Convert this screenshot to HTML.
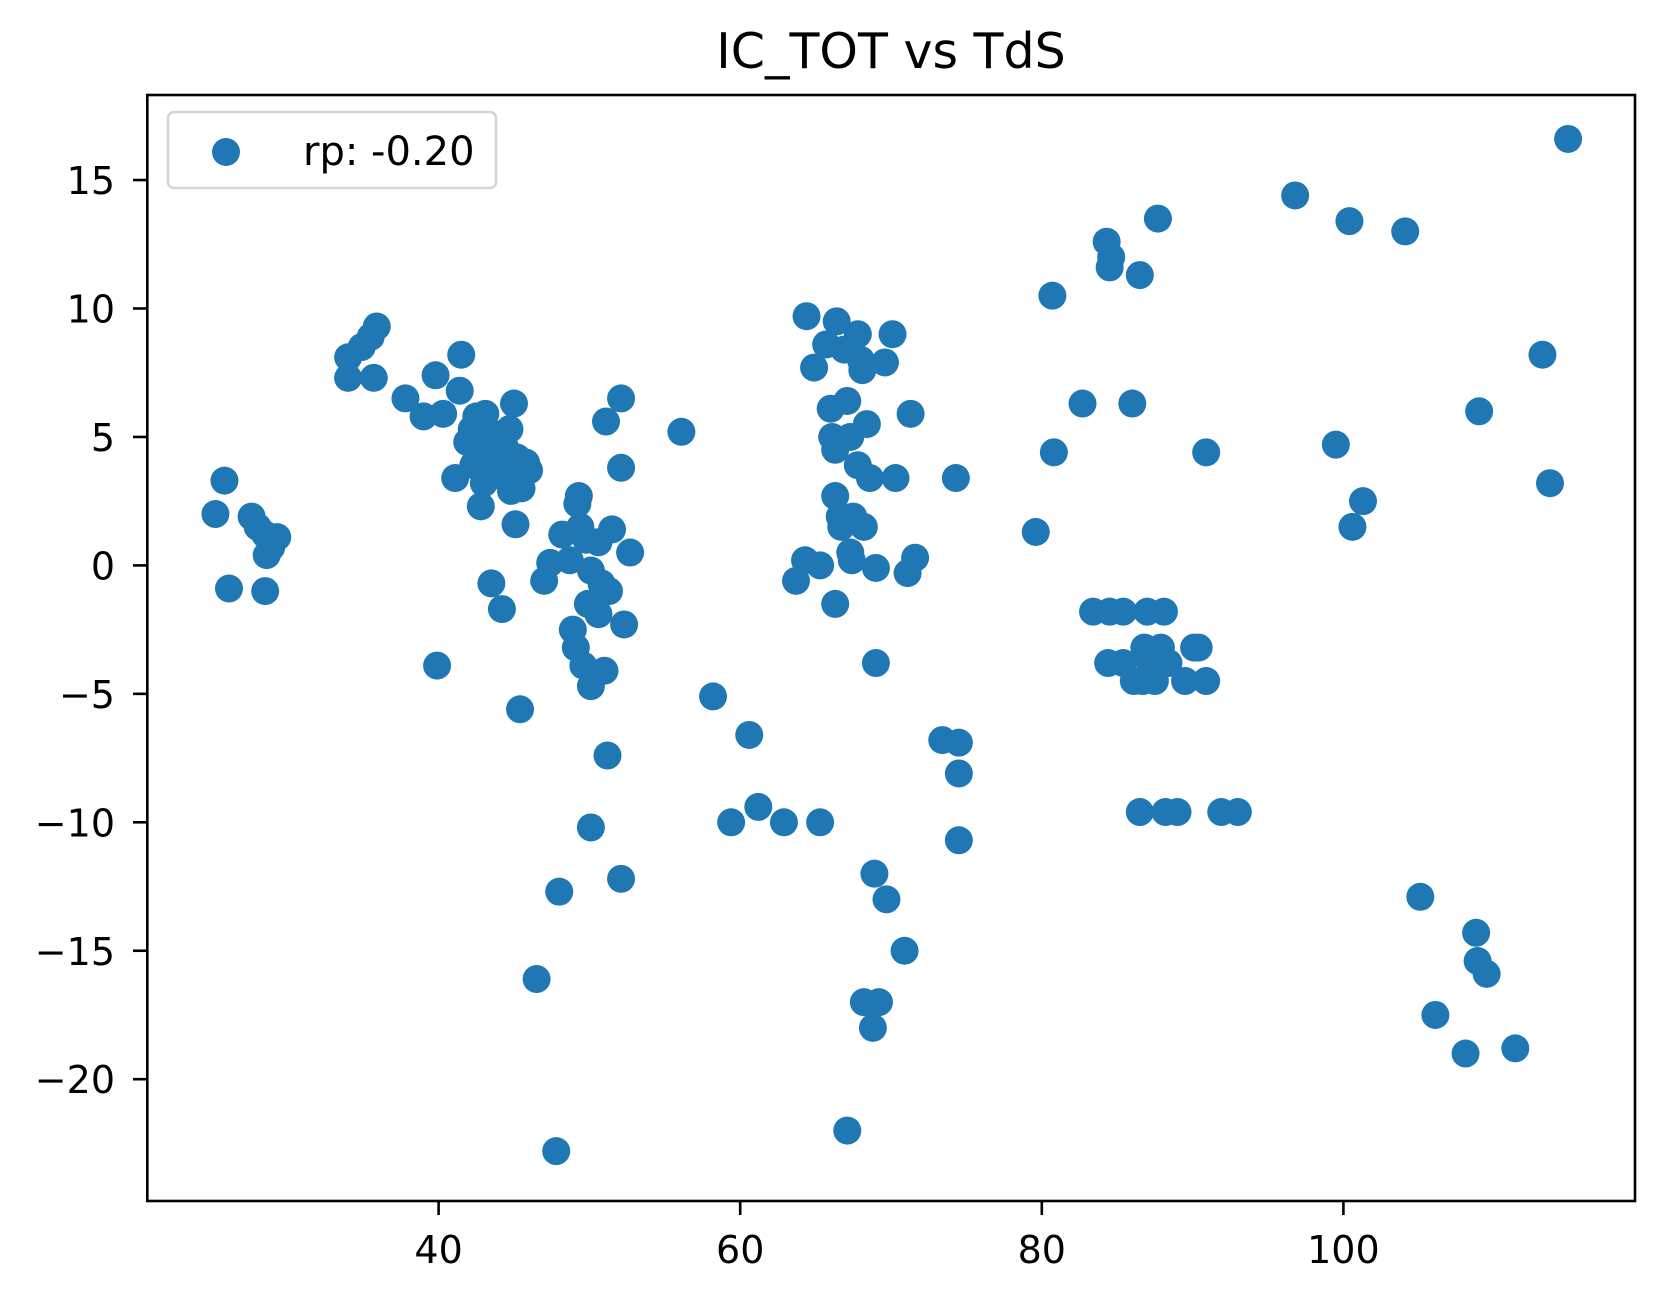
<!DOCTYPE html>
<html><head><meta charset="utf-8"><style>
body{margin:0;background:#fff}
svg text{font-family:"DejaVu Sans","Liberation Sans",sans-serif;fill:#000}
</style></head><body>
<svg width="1665" height="1302" xmlns="http://www.w3.org/2000/svg">
<rect width="1665" height="1302" fill="#fff"/>
<text x="891" y="68" font-size="49" text-anchor="middle">IC_TOT vs TdS</text>
<g id="pts"></g>
<rect x="147.3" y="95" width="1487.7" height="1106" fill="none" stroke="#000" stroke-width="2.6"/>
<g id="axes"></g>
<g>
<rect x="168" y="112" width="328" height="76" rx="6" fill="#fff" fill-opacity="0.8" stroke="#d5d5d5" stroke-width="2.6"/>
<circle cx="226" cy="152" r="14" fill="#1f77b4"/>
<text x="303" y="165" font-size="40">rp: -0.20</text>
</g>
</svg>
<script>
const xs=[25.2,25.8,26.1,27.6,28.0,28.5,28.9,28.6,28.5,29.3,34.0,34.0,34.9,35.5,35.9,35.7,37.8,39.0,39.8,40.3,41.5,41.4,41.1,39.9,
41.9,42.2,42.5,42.8,43.1,43.4,42.3,42.6,43.5,43.8,44.1,44.4,44.7,45.0,45.2,45.5,45.8,46.0,45.0,45.5,43.0,44.0,44.6,44.8,45.1,45.4,42.8,43.5,44.2,
46.5,47.0,47.4,48.0,47.8,48.2,48.7,48.9,49.1,49.3,49.2,49.4,49.6,49.8,50.1,50.1,50.1,49.9,50.6,50.6,50.8,51.0,51.1,51.2,51.3,51.5,52.1,52.1,52.1,52.3,52.7,
56.1,58.2,59.4,60.6,61.2,62.9,63.7,64.3,64.4,64.9,65.3,65.3,65.7,66.0,66.1,66.3,66.3,66.3,66.4,66.6,66.7,66.9,67.1,67.3,67.3,67.4,67.5,67.8,67.8,68.0,68.1,68.2,68.2,68.4,68.6,68.8,69.0,68.9,69.0,69.2,69.6,69.7,70.1,70.3,70.9,71.1,71.3,71.6,67.1,
73.4,74.3,74.5,74.5,74.5,79.6,80.7,80.8,82.7,83.4,84.3,84.6,84.5,84.4,84.5,85.4,85.4,86.0,86.1,86.5,86.5,86.7,86.8,87.0,87.2,87.5,87.7,87.9,88.1,88.2,88.4,89.0,89.5,90.1,90.4,90.9,90.9,91.9,93.0,
96.8,99.5,100.4,100.6,101.3,104.1,105.1,106.1,108.1,108.8,108.9,109.5,109.0,111.4,113.2,113.7,114.9];
const ys=[2.0,3.3,-0.9,1.9,1.5,1.2,0.7,0.4,-1.0,1.1,8.1,7.3,8.5,8.9,9.3,7.3,6.5,5.8,7.4,5.9,8.2,6.8,3.4,-3.9,
4.8,5.3,5.8,4.5,5.9,5.0,3.9,4.1,4.3,4.7,5.1,4.6,5.3,6.3,4.2,3.8,4.0,3.7,3.1,3.0,3.2,3.7,3.3,2.9,1.6,-5.6,2.3,-0.7,-1.7,
-16.1,-0.6,0.1,-12.7,-22.8,1.2,0.2,-2.5,-3.2,2.7,2.4,1.5,-3.9,1.0,-4.7,-10.2,-0.2,-1.5,-1.9,0.9,-0.7,-4.1,5.6,-7.4,-1.0,1.4,6.5,3.8,-12.2,-2.3,0.5,
5.2,-5.1,-10.0,-6.6,-9.4,-10.0,-0.6,0.2,9.7,7.7,0.0,-10.0,8.6,6.1,5.0,2.7,-1.5,4.5,9.5,1.9,1.5,8.4,6.4,5.0,0.5,0.2,1.9,9.0,3.9,8.0,7.6,1.5,-17.0,5.5,3.4,-18.0,-0.1,-12.0,-3.8,-17.0,7.9,-13.0,9.0,3.4,-15.0,-0.3,5.9,0.3,-22.0,
-6.8,3.4,-6.9,-8.1,-10.7,1.3,10.5,4.4,6.3,-1.8,12.6,12.0,-1.8,-3.8,11.6,-1.8,-3.8,6.3,-4.5,11.3,-9.6,-4.5,-3.2,-1.8,-3.8,-4.5,13.5,-3.2,-1.8,-9.6,-3.8,-9.6,-4.5,-3.2,-3.2,-4.5,4.4,-9.6,-9.6,
14.4,4.7,13.4,1.5,2.5,13.0,-12.9,-17.5,-19.0,-14.3,-15.4,-15.9,6.0,-18.8,8.2,3.2,16.6];
const xTicks=[40,60,80,100];
const yTicks=[15,10,5,0,-5,-10,-15,-20];
const xScale=v=>438.6+(v-40)*15.08;
const yScale=v=>565.4-v*25.69;
const NS='http://www.w3.org/2000/svg';
const g=document.getElementById('pts');
for(let i=0;i<xs.length;i++){
 const c=document.createElementNS(NS,'circle');
 c.setAttribute('cx',xScale(xs[i]));c.setAttribute('cy',yScale(ys[i]));c.setAttribute('r',14);c.setAttribute('fill','#1f77b4');
 
 
 g.appendChild(c);
}
const a=document.getElementById('axes');
xTicks.forEach(t=>{
 const x=xScale(t);
 const l=document.createElementNS(NS,'line');
 l.setAttribute('x1',x);l.setAttribute('x2',x);l.setAttribute('y1',1201);l.setAttribute('y2',1215);l.setAttribute('stroke','#000');l.setAttribute('stroke-width',2.6);
 
 
 a.appendChild(l);
 const tx=document.createElementNS(NS,'text');
 tx.setAttribute('x',x);tx.setAttribute('y',1263);tx.setAttribute('font-size',38);tx.setAttribute('text-anchor','middle');tx.textContent=t;
 
 
 a.appendChild(tx);
});
yTicks.forEach(t=>{
 const y=yScale(t);
 const l=document.createElementNS(NS,'line');
 l.setAttribute('x1',133);l.setAttribute('x2',147.3);l.setAttribute('y1',y);l.setAttribute('y2',y);l.setAttribute('stroke','#000');l.setAttribute('stroke-width',2.6);
 
 
 a.appendChild(l);
 const tx=document.createElementNS(NS,'text');
 tx.setAttribute('x',115);tx.setAttribute('y',y+14);tx.setAttribute('font-size',38);tx.setAttribute('text-anchor','end');tx.textContent=t<0?'\u2212'+(-t):t;
 
 
 a.appendChild(tx);
});
</script>
</body></html>
